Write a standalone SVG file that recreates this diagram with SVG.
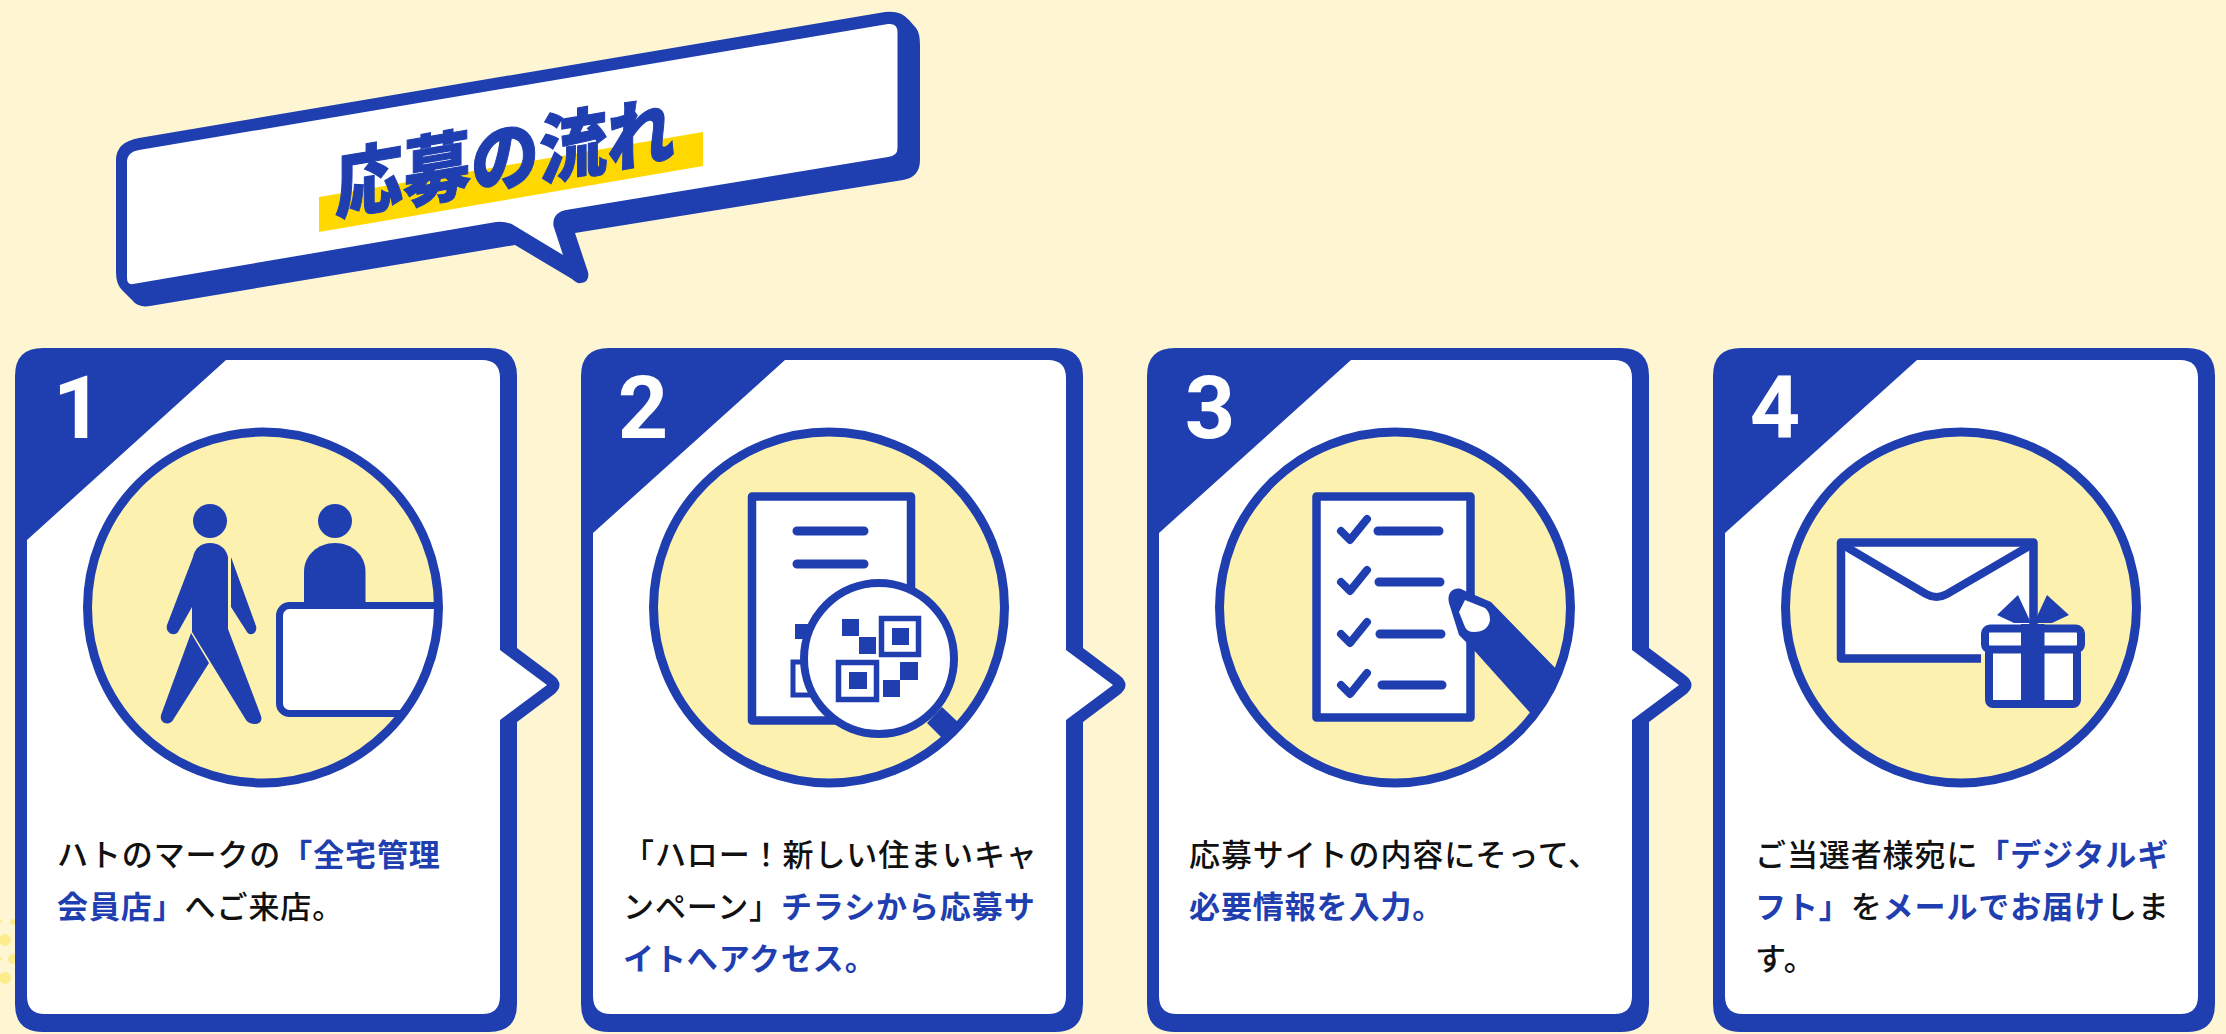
<svg xmlns="http://www.w3.org/2000/svg" width="2226" height="1034" viewBox="0 0 2226 1034">
<style>
.b{fill:#1f3fb1}
.w{fill:#fff}
.ln{fill:none;stroke:#1f3fb1;stroke-width:9;stroke-linecap:round;stroke-linejoin:round}
.ck{fill:none;stroke:#1f3fb1;stroke-width:8;stroke-linecap:round;stroke-linejoin:round}
.fr{fill:#fff;stroke:#1f3fb1;stroke-width:8.5;stroke-linejoin:round}
.disc{fill:#fdf1b0}
.ring{fill:none;stroke:#1f3fb1;stroke-width:9}
.num{font-family:Roboto,"Liberation Sans",sans-serif;font-weight:700;font-size:88px;fill:#fff;text-anchor:middle}
.t{font-family:"Noto Sans CJK JP","Noto Sans",sans-serif;font-size:31px;letter-spacing:0.9px;font-weight:500;fill:#111}
.t tspan{font-weight:700;fill:#1f3fb1}
.h{font-family:"Noto Sans CJK JP","Noto Sans",sans-serif;font-size:68px;font-weight:900;fill:#1f3fb1;stroke:#1f3fb1;stroke-width:1}
</style>
<defs>
<path id="card" d="M43 348H489Q517 348 517 376V648L553 675Q566 685 553 695L517 722V1004Q517 1032 489 1032H43Q15 1032 15 1004V376Q15 348 43 348Z"/>
<path id="cardend" d="M43 348H489Q517 348 517 376V1004Q517 1032 489 1032H43Q15 1032 15 1004V376Q15 348 43 348Z"/>
<path id="cardin" d="M27 540L226 360H482Q500 360 500 378V650L547 685L500 720V996Q500 1014 482 1014H45Q27 1014 27 996Z"/>
<path id="cardin2" d="M27 533L219 360H482Q500 360 500 378V650L547 685L500 720V996Q500 1014 482 1014H45Q27 1014 27 996Z"/>
<path id="cardin3" d="M27 533L219 360H482Q500 360 500 378V996Q500 1014 482 1014H45Q27 1014 27 996Z"/>
<circle id="c" cx="248" cy="607.500" r="175.500"/>
<clipPath id="cc1"><circle cx="263" cy="607.500" r="175.500"/></clipPath>
<clipPath id="cc2"><circle cx="1395" cy="607.500" r="175.500"/></clipPath>
</defs>
<rect width="2226" height="1034" fill="#fef5d3"/>
<g id="dots" fill="#fdec8c">
<circle cx="5" cy="940" r="6"/><circle cx="5" cy="978" r="6"/><circle cx="13" cy="922" r="3"/><circle cx="13" cy="959" r="5"/><circle cx="0" cy="921" r="2"/><circle cx="0" cy="959" r="2"/><circle cx="0" cy="994" r="1"/>
</g>
<g id="title">
<path class="b" d="M139 138L885 12Q901 10 909 20L916 28Q920 33 920 45V160Q920 177 903 180L575 233L588 272Q590 282 581 283Q577 284 572 279L515 245L150 306Q138 308 132 300L122 290Q116 284 116 272V160Q116 142 139 138Z"/>
<path class="w" d="M139 150L888 24Q897.500 23 897.500 32V148Q897.500 156 888 157L566 210Q552 213 553.500 226L563 255L515 226Q508 221 496 222L133 284Q127 285 127 278V162Q127 152 139 150Z"/>
<path fill="#ffd800" d="M319 197L703 132V166L319 232Z"/>
<text class="h" transform="translate(335 214) skewY(-9.600) scale(1 1.120)">応募の流れ</text>
</g>
<g id="step1">
<use href="#card" class="b"/><use href="#cardin" class="w"/>
<text class="num" x="78" y="438">1</text>
<use href="#c" x="15" class="disc"/>
<g clip-path="url(#cc1)">
<circle class="b" cx="210" cy="521" r="17"/><circle class="b" cx="335" cy="521" r="17"/>
<path class="b" d="M304 604V572C304 555 318 543 335 543S365.500 555 365.500 572V604Z"/>
<path class="b" d="M193 557C195 548 201 543 210 543S226 548 228 557V629L261 716C264 726 250 726 246 720L192 632V607L178 632C174 637 165 633 167 625Z"/>
<path class="b" d="M231 557L256 626C258 633 250 637 247 632L231 607Z"/>
<path class="b" d="M191 633L209 663L173 720C170 726 159 724 161 715Z"/>
<rect x="279.500" y="605.500" width="200" height="108" rx="10" fill="#fff" stroke="#1f3fb1" stroke-width="7"/>
</g>
<use href="#c" x="15" class="ring"/>
<text class="t" x="57" y="866">ハトのマークの<tspan>「全宅管理</tspan></text>
<text class="t" x="57" y="918"><tspan>会員店」</tspan>へご来店。</text>
</g>
<g id="step2" transform="translate(566 0)">
<use href="#card" class="b"/><use href="#cardin2" class="w"/>
<text class="num" x="77" y="438">2</text>
<use href="#c" x="15" class="disc"/>
<use href="#c" x="15" class="ring"/>
<g transform="translate(-566 0)">
<rect class="fr" x="752" y="496.500" width="159" height="224"/>
<path class="ln" d="M797 531H864M797 564H864"/>
<rect class="b" x="795" y="624" width="14" height="15"/>
<rect x="793" y="662" width="30" height="33" fill="none" stroke="#1f3fb1" stroke-width="5"/>
<path class="b" d="M942 707L960 724L945 741L927 723Z"/>
<ellipse cx="879" cy="658.500" rx="75" ry="75.500" fill="#fff" stroke="#1f3fb1" stroke-width="8"/>
<path class="b" d="M842 619h17v17h-17zM859 637h17v17h-17zM900 662h18v18h-18zM883 680h17v17h-17zM892 628h17v17h-17zM849 672h18v17h-18z"/>
<rect x="881.500" y="618.500" width="37" height="36" fill="none" stroke="#1f3fb1" stroke-width="5.500"/>
<rect x="838.500" y="662.500" width="38" height="37" fill="none" stroke="#1f3fb1" stroke-width="5.500"/>
</g>
<text class="t" x="57" y="866">「ハロー！新しい住まいキャ</text>
<text class="t" x="57" y="918">ンペーン」<tspan>チラシから応募サ</tspan></text>
<text class="t" x="57" y="970"><tspan>イトへアクセス。</tspan></text>
</g>
<g id="step3" transform="translate(1132 0)">
<use href="#card" class="b"/><use href="#cardin2" class="w"/>
<text class="num" x="78" y="438">3</text>
<use href="#c" x="15" class="disc"/>
<g transform="translate(-1132 0)">
<rect class="fr" x="1316.500" y="496.500" width="154" height="221"/>
<path class="ck" d="M1341 531L1350 540L1367 519M1341 582L1350 591L1367 570M1341 634L1350 643L1367 622M1341 685L1350 694L1367 673"/>
<path class="ln" d="M1378 531H1439M1379 582H1440M1380 634H1441M1382 685H1442"/>
<g clip-path="url(#cc2)">
<path class="b" d="M1463 590L1491 602L1565 678L1533 716L1472 648L1459 635L1449 603C1446 590 1457 586 1463 590Z"/>
<path class="w" d="M1459 612L1465 600L1485 608Q1490 612 1490 620Q1488 632 1474 632Q1467 632 1465 627Z"/>
</g>
</g>
<use href="#c" x="15" class="ring"/>
<text class="t" x="57" y="866">応募サイトの内容にそって、</text>
<text class="t" x="57" y="918"><tspan>必要情報を入力。</tspan></text>
</g>
<g id="step4" transform="translate(1698 0)">
<use href="#cardend" class="b"/><use href="#cardin3" class="w"/>
<text class="num" x="77" y="438">4</text>
<use href="#c" x="15" class="disc"/>
<use href="#c" x="15" class="ring"/>
<g transform="translate(-1698 0)">
<path class="w" d="M1845 547H2029V640H1985V654H1845Z"/>
<path d="M1981 658.500H1841V542.500H2033.500V625" fill="none" stroke="#1f3fb1" stroke-width="8.500" stroke-linejoin="round"/>
<path d="M1843 545L1926 594Q1936.500 600 1947 594L2031 545" fill="none" stroke="#1f3fb1" stroke-width="8"/>
<path class="b" d="M2018 595L1997 615L2014 623H2052L2069 615L2047 595L2034 623H2031Z"/>
<rect x="1989" y="649" width="88" height="55" rx="4" fill="#fff" stroke="#1f3fb1" stroke-width="8"/>
<rect x="1985" y="628.500" width="96" height="21" rx="5" fill="#fff" stroke="#1f3fb1" stroke-width="8"/>
<rect class="b" x="2021" y="624" width="23.500" height="84"/>
</g>
<text class="t" x="57" y="866">ご当選者様宛に<tspan>「デジタルギ</tspan></text>
<text class="t" x="57" y="918"><tspan>フト」</tspan>を<tspan>メールでお届け</tspan>しま</text>
<text class="t" x="57" y="970">す。</text>
</g>
</svg>
